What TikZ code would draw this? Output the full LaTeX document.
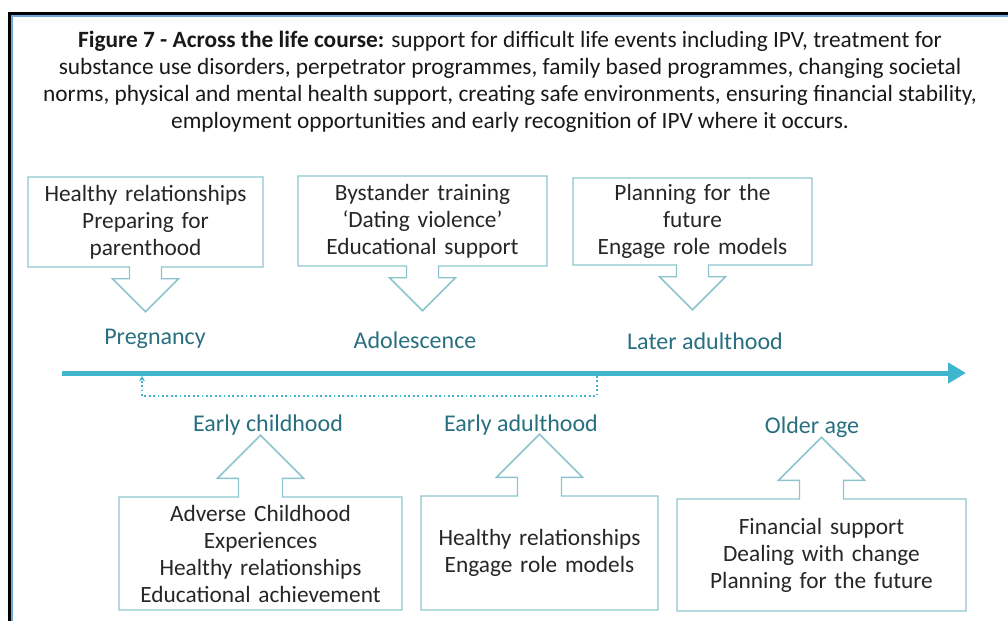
\documentclass[tikz,border=0pt]{standalone}
\usepackage{fontspec}
\setmainfont{Carlito}
\usetikzlibrary{shapes.arrows,arrows.meta}

\definecolor{lineteal}{RGB}{64,182,206}
\definecolor{boxteal}{RGB}{140,196,206}
\definecolor{stageteal}{RGB}{40,112,128}
\definecolor{textgray}{RGB}{38,38,38}
\definecolor{frameblue}{RGB}{111,168,220}

\begin{document}
\begin{tikzpicture}[x=0.75pt,y=-0.75pt,
    every node/.style={font=\fontsize{17.5}{20.25}\selectfont},
    downbox/.style={arrow box, draw=boxteal, line width=1.1pt, text=textgray,
        align=center, inner sep=0pt,
        arrow box arrows={south:33pt from border},
        arrow box shaft width=24pt, arrow box head extend=12.75pt},
    upbox/.style={arrow box, draw=boxteal, line width=1.1pt, text=textgray,
        align=center, inner sep=0pt,
        arrow box arrows={north:45.75pt from border},
        arrow box shaft width=33pt, arrow box head extend=15.75pt},
    stage/.style={text=stageteal, font=\fontsize{18}{21}\selectfont},
    timeline/.style={draw=lineteal, line width=3.75pt,
        -{Triangle[length=13.5pt,width=15pt]}},
    feedback/.style={draw=lineteal, line width=1.3pt, dotted,
        -{Stealth[length=4pt,width=4.5pt]}}
  ]
        \useasboundingbox (0,0) rectangle (1008,621);

        % frame
        \draw[black, line width=2.25pt] (9,621) -- (9,13) -- (1008,13);
        \draw[frameblue, line width=1.5pt] (12,621) -- (12,16) -- (1008,16);

        \node[text=black!90, align=center, font=\fontsize{17.5}{20.25}\selectfont] (title) at (510,81.5) {\textbf{Figure 7 - Across the life course:} support for difficult life events including IPV, treatment for\\
            substance use disorders, perpetrator programmes, family based programmes, changing societal\\
            norms, physical and mental health support, creating safe environments, ensuring financial stability,\\
            employment opportunities and early recognition of IPV where it occurs.};

        % timeline
        \coordinate (tl start) at (62,373);
        \coordinate (tl end) at (966,373);
        \coordinate (loop from) at (597,376);
        \coordinate (loop to) at (142,376);
        \draw[timeline] (tl start) -- (tl end);
        \draw[feedback] (loop from) -- ++(0,20) -| (loop to);

        % above the line
        \node[downbox, text width=176.25pt, minimum height=67.5pt] (preg box) at (145.5,222) {Healthy relationships\\ Preparing for\\ parenthood};
        \node[downbox, text width=186.75pt, minimum height=67.5pt] (adol box) at (422.5,221) {Bystander training\\ ‘Dating violence’\\ Educational support};
        \node[downbox, text width=179.25pt, minimum height=65.25pt] (later box) at (692.5,221.5) {Planning for the\\ future\\ Engage role models};

        \node[stage] (preg) at (155,339) {Pregnancy};
        \node[stage] (adol) at (415,340) {Adolescence};
        \node[stage] (later) at (705,341) {Later adulthood};

        % below the line
        \node[stage] (child) at (268,425) {Early childhood};
        \node[stage] (adult) at (521,425) {Early adulthood};
        \node[stage] (older) at (812,427) {Older age};

        \node[upbox, text width=212.25pt, minimum height=84.75pt] (child box) at (260.5,553.5) {Adverse Childhood\\ Experiences\\ Healthy relationships\\ Educational achievement};
        \node[upbox, text width=177.75pt, minimum height=85.5pt] (adult box) at (539.5,553) {Healthy relationships\\ Engage role models};
        \node[upbox, text width=216.75pt, minimum height=84pt] (older box) at (821.5,555) {Financial support\\ Dealing with change\\ Planning for the future};

    \end{tikzpicture}
\end{document}
